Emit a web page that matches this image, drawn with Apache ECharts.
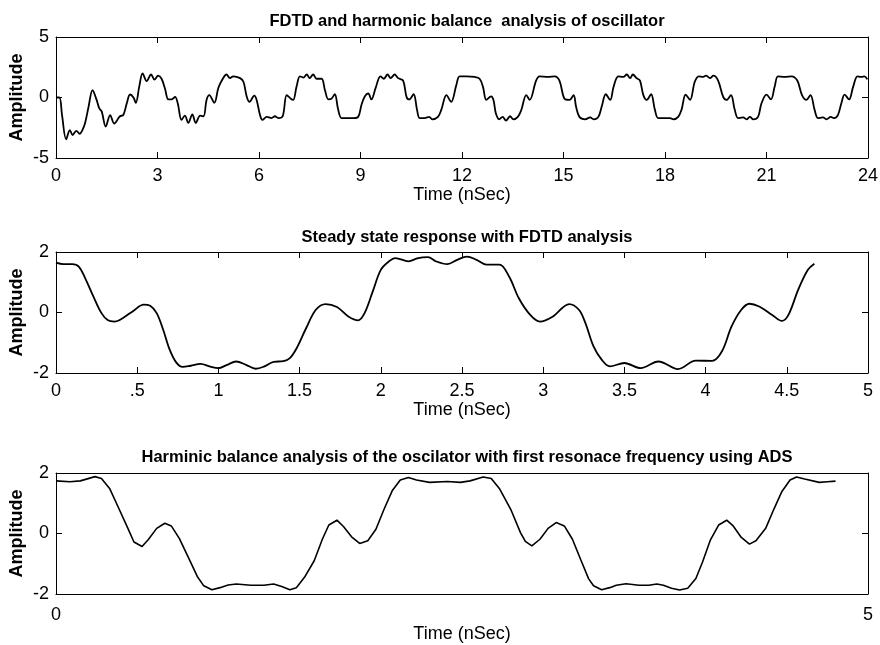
<!doctype html>
<html>
<head>
    <meta charset="utf-8">
    <title>oscillator</title>
    <script type="text/javascript" src="https://cdn.jsdelivr.net/npm/echarts@6/dist/echarts.min.js"></script>
</head>
<body style="margin:0;padding:0">
    <div id="tb" style="width:880px;height:645px"></div>
    <script>
        // top: FDTD + harmonic balance, 0..24 ns
        var topX = [0, 0.1, 0.18, 0.30, 0.41, 0.49, 0.6, 0.7, 0.78, 0.86, 0.96, 1.08, 1.2, 1.28, 1.35, 1.47, 1.6, 1.72, 1.89, 1.99,
            2.09, 2.19, 2.29, 2.36, 2.46, 2.56, 2.68, 2.81, 2.91, 3.02, 3.12, 3.22, 3.32, 3.42, 3.52, 3.6, 3.71, 3.81, 3.91, 4.03,
            4.13, 4.26, 4.36, 4.45, 4.53, 4.68, 4.8, 4.93, 5.04, 5.14, 5.24, 5.44, 5.54, 5.64, 5.72, 5.86, 5.93, 6.03, 6.1, 6.23,
            6.37, 6.47, 6.57, 6.7, 6.82, 6.94, 7.01, 7.11, 7.21, 7.31, 7.41, 7.5, 7.6, 7.7, 7.85, 7.95, 8.05, 8.14, 8.24, 8.34,
            8.44, 8.59, 8.78, 8.93, 9.03, 9.13, 9.23, 9.32, 9.45, 9.59, 9.69, 9.8, 9.89, 10.01, 10.11, 10.26, 10.36, 10.44, 10.57, 10.67,
            10.75, 10.9, 11.03, 11.12, 11.29, 11.39, 11.54, 11.68, 11.83, 11.93, 12.13, 12.37, 12.52, 12.62, 12.72, 12.86, 12.93, 13.0, 13.1, 13.2,
            13.3, 13.42, 13.52, 13.65, 13.75, 13.9, 14.0, 14.19, 14.29, 14.54, 14.74, 14.88, 15.03, 15.18, 15.3, 15.37, 15.47, 15.64, 15.79, 15.89,
            16.03, 16.13, 16.25, 16.38, 16.48, 16.62, 16.77, 16.87, 16.97, 17.05, 17.16, 17.26, 17.36, 17.46, 17.59, 17.7, 17.8, 18.0, 18.15, 18.25,
            18.39, 18.49, 18.61, 18.74, 18.88, 19.0, 19.13, 19.21, 19.33, 19.43, 19.57, 19.72, 19.82, 19.95, 20.06, 20.16, 20.31, 20.41, 20.51, 20.61,
            20.75, 20.85, 21.0, 21.13, 21.24, 21.34, 21.54, 21.74, 21.91, 22.05, 22.18, 22.3, 22.42, 22.52, 22.67, 22.77, 22.9, 22.99, 23.11, 23.21,
            23.31, 23.44, 23.56, 23.69, 23.8, 23.9, 23.98];
        var topY = [0, 0, -1.5, -3.45, -2.7, -3.1, -2.75, -3.0, -2.7, -2.1, -0.8, 0.6, -0.2, -0.9, -1.15, -2.4, -1.45, -2.15, -1.55, -1.45,
            -0.5, 0.25, 0, -0.44, 0.9, 2.0, 1.35, 1.9, 1.48, 1.8, 1.55, 0.75, -0.15, -0.15, 0.05, -0.5, -1.85, -1.5, -2.1, -1.4,
            -2.1, -1.5, -1.55, -0.2, 0.2, -0.44, 0.8, 1.55, 1.9, 1.6, 1.75, 1.6, 1.3, 0.05, -0.35, 0.15, -0.2, -1.45, -1.85, -1.6,
            -1.7, -1.55, -1.7, -1.55, 0.2, -0.1, -0.2, 0.9, 1.75, 1.65, 1.9, 1.6, 1.9, 1.55, 1.55, 0.6, -0.15, -0.1, 0.27, -1.0,
            -1.7, -1.7, -1.7, -1.6, -0.6, 0.1, 0.33, -0.16, 0.82, 1.75, 1.55, 1.9, 1.6, 1.9, 1.6, 1.4, 0.05, -0.16, 0.27, -1.0,
            -1.7, -1.7, -1.6, -1.8, -1.6, -1.0, 0.2, -0.36, 1.0, 1.75, 1.75, 1.7, 1.55, 0.88, -0.2, 0.1, -0.2, -1.3, -1.8, -1.6,
            -1.9, -1.55, -1.8, -1.6, -1.05, 0.2, -0.2, 1.4, 1.75, 1.7, 1.75, 1.4, -0.1, -0.2, 0.2, -0.75, -1.6, -1.8, -1.65, -1.8,
            -1.6, -0.75, 0.27, -0.2, 0.88, 1.75, 1.7, 1.9, 1.6, 1.9, 1.6, 1.4, 0.2, -0.2, 0.27, -1.0, -1.7, -1.7, -1.7, -1.8,
            -1.6, -1.0, 0.24, -0.2, 1.3, 1.75, 1.7, 1.8, 1.6, 1.8, 1.4, 0.05, -0.2, 0.2, -1.0, -1.7, -1.65, -1.8, -1.6, -1.8,
            -1.6, -0.5, 0.24, -0.16, 0.88, 1.75, 1.7, 1.75, 1.4, 0.2, -0.2, 0.2, -1.0, -1.7, -1.65, -1.8, -1.6, -1.7, -1.45, -0.5,
            0.24, -0.16, 0.88, 1.75, 1.7, 1.75, 1.5];

        // middle: steady state FDTD
        var midX = [0, 0.045, 0.1, 0.14, 0.18, 0.23, 0.28, 0.32, 0.36, 0.41, 0.48, 0.54, 0.58, 0.62, 0.66, 0.70, 0.74, 0.78, 0.83, 0.89,
            0.95, 1.0, 1.05, 1.11, 1.17, 1.23, 1.28, 1.34, 1.40, 1.44, 1.48, 1.54, 1.60, 1.66, 1.73, 1.80, 1.86, 1.90, 1.95, 2.0,
            2.05, 2.09, 2.17, 2.23, 2.29, 2.34, 2.41, 2.47, 2.53, 2.59, 2.65, 2.73, 2.79, 2.85, 2.92, 2.98, 3.06, 3.16, 3.22, 3.26,
            3.31, 3.36, 3.41, 3.5, 3.6, 3.71, 3.83, 3.94, 4.04, 4.1, 4.16, 4.22, 4.27, 4.33, 4.41, 4.47, 4.51, 4.57, 4.63, 4.67];
        var midY = [1.65, 1.6, 1.6, 1.52, 1.13, 0.53, -0.02, -0.26, -0.3, -0.19, 0.07, 0.26, 0.22, -0.02, -0.57, -1.23, -1.65, -1.8, -1.76, -1.7,
            -1.79, -1.84, -1.74, -1.62, -1.73, -1.86, -1.79, -1.63, -1.61, -1.51, -1.2, -0.52, 0.09, 0.28, 0.18, -0.13, -0.26, -0.02, 0.69, 1.41,
            1.69, 1.8, 1.69, 1.8, 1.83, 1.69, 1.6, 1.74, 1.85, 1.74, 1.58, 1.58, 1.19, 0.47, -0.08, -0.3, -0.13, 0.28, 0.09, -0.35,
            -1.12, -1.56, -1.78, -1.67, -1.84, -1.62, -1.87, -1.59, -1.6, -1.29, -0.46, 0.09, 0.29, 0.2, -0.08, -0.28, -0.08, 0.75, 1.41, 1.61];

        // bottom: harmonic balance (ADS)
        var botX = [0, 0.086, 0.15, 0.24, 0.28, 0.33, 0.38, 0.44, 0.48, 0.53, 0.57, 0.62, 0.67, 0.71, 0.76, 0.82, 0.87, 0.91, 0.96, 1.01,
            1.06, 1.11, 1.20, 1.28, 1.34, 1.39, 1.44, 1.48, 1.53, 1.59, 1.64, 1.68, 1.73, 1.77, 1.82, 1.87, 1.92, 1.97, 2.02, 2.07,
            2.12, 2.17, 2.22, 2.3, 2.41, 2.49, 2.55, 2.63, 2.68, 2.73, 2.8, 2.86, 2.89, 2.93, 2.98, 3.03, 3.08, 3.13, 3.18, 3.23,
            3.28, 3.31, 3.36, 3.41, 3.45, 3.51, 3.59, 3.65, 3.7, 3.74, 3.79, 3.84, 3.89, 3.94, 3.98, 4.03, 4.08, 4.13, 4.17, 4.22,
            4.27, 4.31, 4.37, 4.42, 4.47, 4.52, 4.56, 4.61, 4.7, 4.75, 4.8];
        var botY = [1.74, 1.71, 1.74, 1.88, 1.82, 1.49, 0.91, 0.2, -0.28, -0.43, -0.19, 0.17, 0.34, 0.25, -0.17, -0.85, -1.42, -1.73, -1.86, -1.79,
            -1.7, -1.67, -1.71, -1.71, -1.67, -1.75, -1.86, -1.79, -1.45, -0.9, -0.19, 0.28, 0.44, 0.23, -0.11, -0.33, -0.24, 0.14, 0.8, 1.41,
            1.77, 1.85, 1.77, 1.69, 1.72, 1.69, 1.74, 1.87, 1.82, 1.49, 0.8, 0.03, -0.26, -0.41, -0.19, 0.17, 0.36, 0.25, -0.19, -0.85,
            -1.5, -1.73, -1.86, -1.79, -1.71, -1.66, -1.71, -1.71, -1.67, -1.71, -1.81, -1.87, -1.81, -1.49, -0.96, -0.21, 0.28, 0.44, 0.25, -0.13,
            -0.35, -0.24, 0.17, 0.8, 1.39, 1.77, 1.87, 1.8, 1.69, 1.71, 1.73];

        // tick labels
        var topXTicks = ['0', '3', '6', '9', '12', '15', '18', '21', '24'];
        var midXTicks = ['0', '.5', '1', '1.5', '2', '2.5', '3', '3.5', '4', '4.5', '5'];
        var botXTicks = ['0', '5'];
        var topYTicks = ['-5', '0', '5'];
        var lowYTicks = ['-2', '0', '2'];

        var titles = ['FDTD and harmonic balance  analysis of oscillator',
            'Steady state response with FDTD analysis',
            'Harminic balance analysis of the oscilator with first resonace frequency using ADS'];

        var FONT = '"Liberation Sans", Arial, Helvetica, sans-serif';
        var black = '#000';

        function zip(xs, ys) {
            var out = [];
            for (var i = 0; i < xs.length; i++) out.push([xs[i], ys[i]]);
            return out;
        }

        function xPair(g, min, max, step, labels, ticks, margin, gap) {
            var base = {
                type: 'value', gridIndex: g, min: min, max: max, interval: step,
                axisLine: { show: true, onZero: false, lineStyle: { color: black, width: 1 } },
                axisTick: { show: ticks, inside: true, length: 6, lineStyle: { color: black } },
                splitLine: { show: false }
            };
            var bottom = Object.assign({}, base, {
                position: 'bottom',
                name: 'Time (nSec)', nameLocation: 'middle', nameGap: gap, nameMoveOverlap: false,
                nameTextStyle: { fontSize: 18, color: black, fontFamily: FONT },
                axisLabel: {
                    fontSize: 18, color: black, fontFamily: FONT, margin: margin,
                    formatter: function (v) { return labels[Math.round((v - min) / step)]; }
                }
            });
            var top = Object.assign({}, base, { position: 'top', axisLabel: { show: false } });
            return [bottom, top];
        }

        function yPair(g, lim, step, labels) {
            var base = {
                type: 'value', gridIndex: g, min: -lim, max: lim, interval: step,
                axisLine: { show: true, onZero: false, lineStyle: { color: black, width: 1 } },
                axisTick: { show: true, inside: true, length: 6, lineStyle: { color: black } },
                splitLine: { show: false }
            };
            var left = Object.assign({}, base, {
                position: 'left',
                name: 'Amplitude', nameLocation: 'middle', nameGap: 30, nameRotate: 90, nameMoveOverlap: false,
                nameTextStyle: { fontSize: 18, fontWeight: 'bold', color: black, fontFamily: FONT },
                axisLabel: {
                    fontSize: 18, color: black, fontFamily: FONT, margin: 7,
                    formatter: function (v) { return labels[Math.round((v + lim) / step)]; }
                }
            });
            var right = Object.assign({}, base, { position: 'right', axisLabel: { show: false } });
            return [left, right];
        }

        var chart = echarts.init(document.getElementById('tb'));
        var gridTops = [37, 252, 473];
        var titleTops = [8, 224, 444];

        chart.setOption({
            animation: false,
            backgroundColor: '#fff',
            title: titles.map(function (t, i) {
                return {
                    text: t, left: 462, top: titleTops[i], textAlign: 'center',
                    textStyle: { fontSize: 16.5, fontWeight: 'bold', color: black, fontFamily: FONT }
                };
            }),
            grid: gridTops.map(function (t) {
                return { left: 56, right: 12, top: t, height: 121, outerBoundsMode: 'none' };
            }),
            xAxis: [].concat(
                xPair(0, 0, 24, 3, topXTicks, true, 9, 28),
                xPair(1, 0, 5, 0.5, midXTicks, true, 9, 28),
                xPair(2, 0, 5, 5, botXTicks, false, 12, 31)
            ),
            yAxis: [].concat(
                yPair(0, 5, 5, topYTicks),
                yPair(1, 2, 2, lowYTicks),
                yPair(2, 2, 2, lowYTicks)
            ),
            series: [{
                type: 'line', xAxisIndex: 0, yAxisIndex: 0, data: zip(topX, topY),
                smooth: 0.35, symbol: 'none', lineStyle: { color: black, width: 1.8 }
            }, {
                type: 'line', xAxisIndex: 2, yAxisIndex: 2, data: zip(midX, midY),
                smooth: 0.35, symbol: 'none', lineStyle: { color: black, width: 1.8 }
            }, {
                type: 'line', xAxisIndex: 4, yAxisIndex: 4, data: zip(botX, botY),
                smooth: false, symbol: 'none', lineStyle: { color: black, width: 1.6 }
            }]
        });
    </script>
</body>
</html>
